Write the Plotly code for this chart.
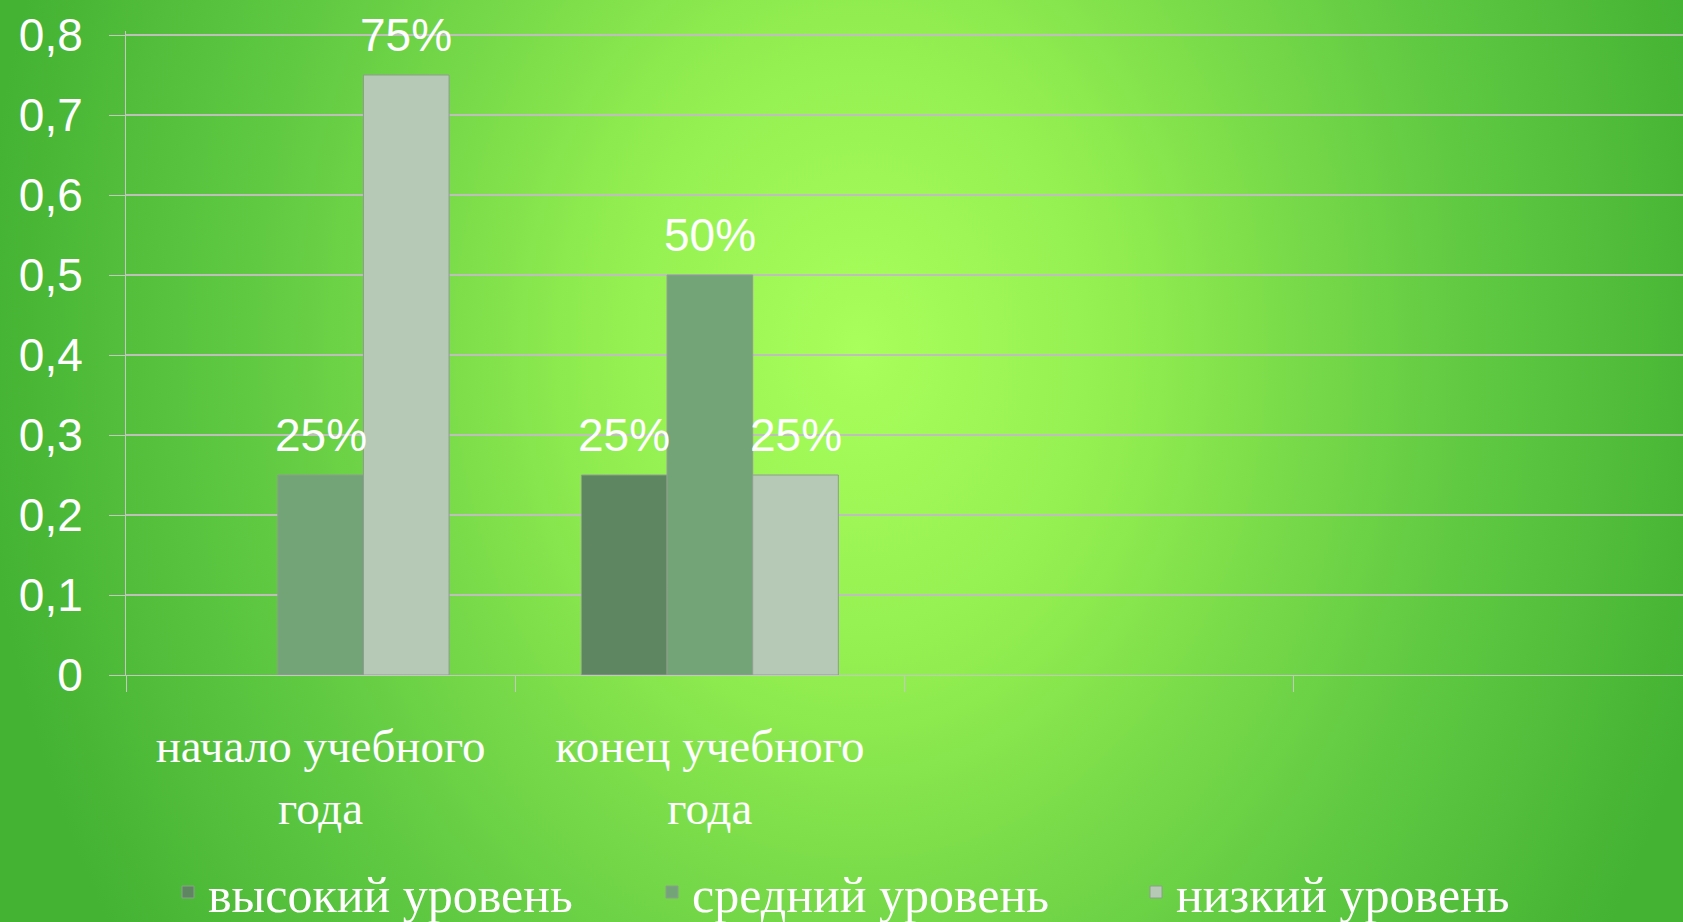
import base64
import plotly.graph_objects as go

categories = ["начало учебного<br>года", "конец учебного<br>года", " ", "  "]
series_names = ["высокий уровень", "средний уровень", "низкий уровень"]
high_values = [None, 0.25, None, None]
mid_values = [0.25, 0.5, None, None]
low_values = [0.75, 0.25, None, None]
y_tick_values = [0, 0.1, 0.2, 0.3, 0.4, 0.5, 0.6, 0.7, 0.8]

series_values = [high_values, mid_values, low_values]
colors = ["#5E8660", "#72A478", "#B6C9B6"]

W, H = 1683, 922
Y_MAX = 0.805
ML, MR, MT, MB = 126, 0, 31, 247
BARGAP = 0.34

fig = go.Figure()
for name, vals, col in zip(series_names, series_values, colors):
    fig.add_trace(go.Bar(
        x=categories, y=vals, name=name,
        marker=dict(color=col, line=dict(color="#8E9E8E", width=1)),
        hoverinfo="skip",
    ))

# value labels above bars
n = len(series_names)
w = (1 - BARGAP) / n
annotations = []
for si, vals in enumerate(series_values):
    for ci, v in enumerate(vals):
        if v is None:
            continue
        annotations.append(dict(
            x=ci + (si - (n - 1) / 2) * w, y=v, xref="x", yref="y",
            text=f"{round(v * 100)}%", showarrow=False,
            yanchor="bottom", xanchor="center", yshift=12,
            font=dict(family="Liberation Sans", size=46, color="white"),
        ))

svg = (
    f'<svg xmlns="http://www.w3.org/2000/svg" width="{W}" height="{H}" viewBox="0 0 {W} {H}" preserveAspectRatio="none">'
    '<defs><radialGradient id="g" gradientUnits="userSpaceOnUse" cx="860" cy="350" r="880" '
    'gradientTransform="translate(860 350) scale(1 1.25) translate(-860 -350)">'
    '<stop offset="0" stop-color="#A9FF5B"/><stop offset="0.3" stop-color="#92EE50"/>'
    '<stop offset="0.5" stop-color="#78DA49"/><stop offset="0.7" stop-color="#5FC942"/>'
    '<stop offset="1" stop-color="#44B233"/></radialGradient></defs>'
    f'<rect width="{W}" height="{H}" fill="url(#g)"/></svg>'
)
src = "data:image/svg+xml;base64," + base64.b64encode(svg.encode()).decode()
pw, ph = W - ML - MR, H - MT - MB

fig.update_layout(
    width=W, height=H,
    margin=dict(l=ML, r=MR, t=MT, b=MB, pad=0, autoexpand=False),
    paper_bgcolor="#44B233", plot_bgcolor="rgba(0,0,0,0)",
    barmode="group", bargap=BARGAP, bargroupgap=0,
    separators=", ",
    images=[dict(source=src, xref="paper", yref="paper",
                 x=-ML / pw, y=1 + MT / ph, sizex=W / pw, sizey=H / ph,
                 xanchor="left", yanchor="top", sizing="stretch", layer="below")],
    annotations=annotations,
    showlegend=True,
    legend=dict(orientation="h", x=(894 - ML) / pw, xanchor="center",
                y=(H - MB - 892) / ph, yanchor="middle",
                font=dict(family="Liberation Serif", size=50, color="white"),
                bgcolor="rgba(0,0,0,0)", entrywidth=439, traceorder="normal"),
    xaxis=dict(type="category", categoryorder="array", categoryarray=categories,
               range=[-0.5, len(categories) - 0.5],
               showline=True, linecolor="#C4C8C0", linewidth=1,
               ticks="outside", ticklen=16, tickcolor="#C4C8C0", tickwidth=1,
               tickson="boundaries", showgrid=False, ticklabelstandoff=30,
               tickfont=dict(family="Liberation Serif", size=47, color="white")),
    yaxis=dict(range=[0, Y_MAX], tickvals=y_tick_values,
               showline=True, linecolor="#C4C8C0", linewidth=1,
               ticks="outside", ticklen=16, tickcolor="#C4C8C0",
               showgrid=True, gridcolor="#BDBFB8", gridwidth=1.5,
               zeroline=False, ticklabelstandoff=17,
               tickfont=dict(family="Liberation Sans", size=46, color="white")),
)

fig.write_html("out.html", config={"displayModeBar": False},
               post_script="document.body.style.margin='0px';")
